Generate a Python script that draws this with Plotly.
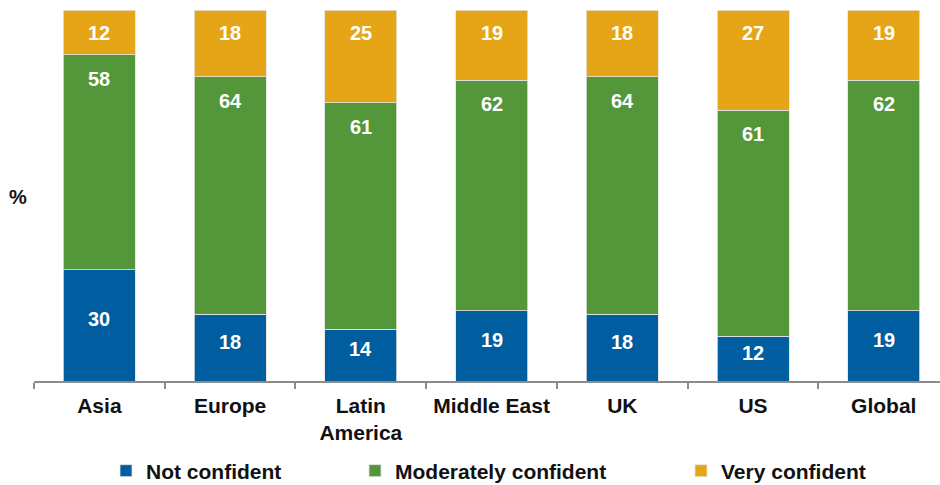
import plotly.graph_objects as go

# Survey responses by region (% of respondents)
regions = ["Asia", "Europe", "Latin<br>America", "Middle East", "UK", "US", "Global"]
not_confident = [30, 18, 14, 19, 18, 12, 19]
moderately_confident = [58, 64, 61, 62, 64, 61, 62]
very_confident = [12, 18, 25, 19, 18, 27, 19]

series = [
    ("Not confident", not_confident, "#005DA0"),
    ("Moderately confident", moderately_confident, "#53973A"),
    ("Very confident", very_confident, "#E6A516"),
]

FONT = "Liberation Sans, Arial, sans-serif"
PLOT_W = 906  # plot-area width in px

fig = go.Figure()
legend_ids = ["legend", "legend2", "legend3"]
for (name, vals, color), lg in zip(series, legend_ids):
    fig.add_trace(go.Bar(
        x=regions, y=vals, name=f"<b>{name}</b>", legend=lg, showlegend=True,
        marker=dict(color=color, line=dict(color="#e4e4e4", width=0.8)),
        hoverinfo="skip",
    ))

# Value labels: lower segment centred, upper segments near their top edge
annotations = []
for i, r in enumerate(regions):
    nc, mc, vc = not_confident[i], moderately_confident[i], very_confident[i]
    annotations.append(dict(x=r, y=nc / 2, text=f"<b>{nc}</b>", yshift=6))
    annotations.append(dict(x=r, y=nc + mc, text=f"<b>{mc}</b>", yshift=-24))
    annotations.append(dict(x=r, y=nc + mc + vc, text=f"<b>{vc}</b>", yshift=-23))
for a in annotations:
    a.update(xref="x", yref="y", showarrow=False,
             font=dict(family=FONT, size=20, color="white"))

annotations.append(dict(
    xref="paper", yref="paper", x=-16 / PLOT_W, y=0.496, text="<b>%</b>",
    showarrow=False, xanchor="center", yanchor="middle",
    font=dict(family=FONT, size=20, color="#111111"),
))

legend_style = dict(
    orientation="h", yref="container", y=14 / 485, yanchor="middle",
    xanchor="left", font=dict(family=FONT, size=21, color="#111111"),
    bgcolor="rgba(0,0,0,0)", itemclick=False, itemdoubleclick=False,
)

fig.update_layout(
    width=940, height=485,
    margin=dict(l=34, r=0, t=10, b=104),
    plot_bgcolor="white", paper_bgcolor="white",
    barmode="stack", bargap=0.449, showlegend=True,
    font=dict(family=FONT, size=21, color="#111111"),
    annotations=annotations,
    legend=dict(legend_style, x=(106 - 34) / PLOT_W),
    legend2=dict(legend_style, x=(355 - 34) / PLOT_W),
    legend3=dict(legend_style, x=(681 - 34) / PLOT_W),
    xaxis=dict(
        type="category", range=[-0.5, 6.43],
        showline=True, linecolor="#8c8c8c", linewidth=1.5,
        ticks="outside", tickson="boundaries", ticklen=6,
        tickcolor="#8c8c8c", tickwidth=1.5,
        tickfont=dict(family=FONT, size=21, color="#111111"),
        tickprefix="<b>", ticksuffix="</b>", ticklabelstandoff=5,
        showgrid=False, zeroline=False, fixedrange=True,
    ),
    yaxis=dict(range=[0, 100], visible=False, fixedrange=True),
)

fig.write_html("out.html")
